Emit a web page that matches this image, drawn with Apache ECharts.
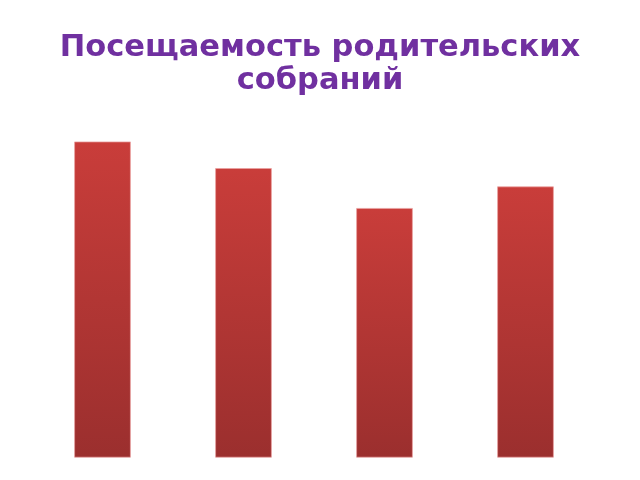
<!DOCTYPE html>
<html>
<head>
<meta charset="utf-8">
<script src="https://cdn.jsdelivr.net/npm/echarts@6/dist/echarts.min.js"></script>
<style>
  html, body { margin: 0; padding: 0; background: #fff; }
  #chart { width: 640px; height: 480px; }
</style>
</head>
<body>
<div id="chart"></div>
<script>
// Посещаемость родительских собраний
var categories = ['Собрание 1', 'Собрание 2', 'Собрание 3', 'Собрание 4'];
var attendance = [95, 87, 75, 81.5];

var oChart = echarts.init(document.getElementById('chart'));

var chartopt = {
    backgroundColor: '#fff',
    title: {
        text: 'Посещаемость родительских\nсобраний',
        left: 'center',
        top: 27,
        textStyle: {
            fontFamily: 'DejaVu Sans',
            fontWeight: 'bold',
            fontSize: 30.5,
            lineHeight: 33,
            color: '#7030a0'
        }
    },
    grid: {
        left: 32,
        right: 44,
        top: 125,
        bottom: 22.5
    },
    xAxis: {
        type: 'category',
        data: categories,
        show: false
    },
    yAxis: {
        type: 'value',
        min: 0,
        max: 100,
        show: false
    },
    series: [{
        type: 'bar',
        barWidth: '40%',
        data: attendance,
        itemStyle: {
            borderColor: 'rgba(235,160,160,0.7)',
            borderWidth: 0.6,
            color: new echarts.graphic.LinearGradient(0, 0, 0, 1, [{
                offset: 0,
                color: '#c93d3a'
            }, {
                offset: 1,
                color: '#9b2f2e'
            }])
        }
    }]
};

oChart.setOption(chartopt);
</script>
</body>
</html>
